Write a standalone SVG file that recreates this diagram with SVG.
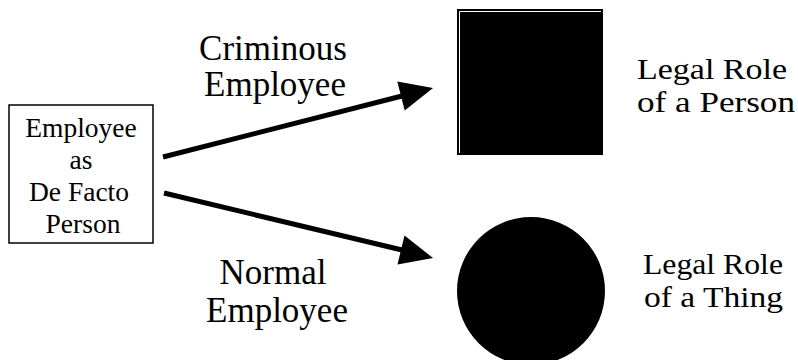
<svg xmlns="http://www.w3.org/2000/svg" width="798" height="360" viewBox="0 0 798 360">
<style>
  text { font-family: "Liberation Serif", "Times New Roman", serif; fill: #000; }
  .box { font-size: 27.5px; }
  .lbl { font-size: 35px; }
  .role { font-size: 30px; }
  .conn { stroke: #000; stroke-width: 5; fill: none; }
</style>
<rect width="798" height="360" fill="#fff"/>
<g id="employee">
  <rect x="9" y="105" width="144" height="138" fill="#fff" stroke="#000" stroke-width="1.5"/>
  <text class="box" x="81" y="137" text-anchor="middle">Employee</text>
  <text class="box" x="81" y="169" text-anchor="middle">as</text>
  <text class="box" x="79" y="201" text-anchor="middle">De Facto</text>
  <text class="box" x="83" y="233" text-anchor="middle">Person</text>
</g>
<g id="person-role">
  <rect x="457" y="9" width="146" height="146" fill="#000"/>
  <polyline points="459.5,153 459.5,11.5 601,11.5" fill="none" stroke="#fff" stroke-width="1"/>
  <text class="role" x="637" y="79" textLength="150" lengthAdjust="spacingAndGlyphs">Legal Role</text>
  <text class="role" x="637" y="112" textLength="158" lengthAdjust="spacingAndGlyphs">of a Person</text>
</g>
<g id="thing-role">
  <circle cx="531" cy="291" r="74" fill="#000"/>
  <text class="role" x="643" y="274" textLength="140" lengthAdjust="spacingAndGlyphs">Legal Role</text>
  <text class="role" x="644" y="307" textLength="139" lengthAdjust="spacingAndGlyphs">of a Thing</text>
</g>
<g id="connectors">
  <g id="criminous">
    <line class="conn" x1="163" y1="157" x2="402" y2="96"/>
    <polygon points="433,88 397.3,81.5 404.7,110.5" fill="#000"/>
    <text class="lbl" x="273" y="60" text-anchor="middle">Criminous</text>
    <text class="lbl" x="275" y="96" text-anchor="middle">Employee</text>
  </g>
  <g id="normal">
    <line class="conn" x1="164" y1="193" x2="402" y2="250"/>
    <polygon points="433,258 404.5,235.4 397.5,264.6" fill="#000"/>
    <text class="lbl" x="273" y="284" text-anchor="middle">Normal</text>
    <text class="lbl" x="277" y="322" text-anchor="middle">Employee</text>
  </g>
</g>
</svg>
